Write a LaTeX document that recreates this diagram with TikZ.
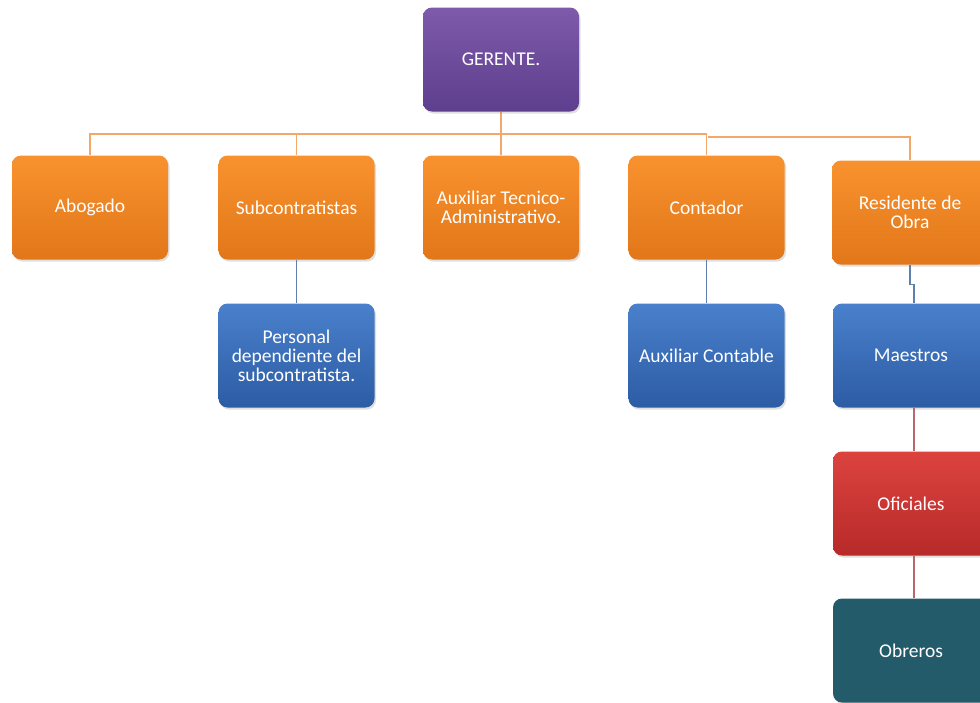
\documentclass[tikz,border=0pt]{standalone}
\usepackage{fontspec}
\setmainfont{Carlito}
\usetikzlibrary{shadows}
\pgfdeclarelayer{bg}
\pgfsetlayers{bg,main}
\definecolor{purpletop}{HTML}{7E5AAA}
\definecolor{purplebot}{HTML}{5E3E8E}
\definecolor{orangetop}{HTML}{F8922E}
\definecolor{orangebot}{HTML}{E27719}
\definecolor{bluetop}{HTML}{4A80CC}
\definecolor{bluebot}{HTML}{2C5CA4}
\definecolor{redtop}{HTML}{DC433F}
\definecolor{redbot}{HTML}{B72A29}
\definecolor{tealbox}{HTML}{245B6B}
\definecolor{orangeline}{HTML}{F2A86A}
\definecolor{blueline}{HTML}{5F7FAF}
\definecolor{redline}{HTML}{B8686A}
\tikzset{
    every node/.style={rectangle, rounded corners=9pt, inner sep=2pt, minimum width=156pt, minimum height=104pt,
        text width=150pt, align=flush center, text=white, font=\fontsize{19.5}{19}\selectfont,
        drop shadow={opacity=.25, shadow xshift=1.5pt, shadow yshift=-2pt}}
}
\tikzset{boss/.style={top color=purpletop, bottom color=purplebot}}
\tikzset{staff/.style={top color=orangetop, bottom color=orangebot}}
\tikzset{helper/.style={top color=bluetop, bottom color=bluebot}}
\tikzset{officer/.style={top color=redtop, bottom color=redbot}}
\tikzset{worker/.style={fill=tealbox}}
\tikzset{orgline/.style={draw=orangeline, line width=1.2pt}}
\tikzset{subline/.style={draw=blueline, line width=1.1pt}}
\tikzset{crewline/.style={draw=redline, line width=1.1pt}}

\begin{document}
\begin{tikzpicture}[x=1pt, y=-1pt]
    \useasboundingbox (0,0) rectangle (980,702);
    \clip (0,0) rectangle (980,702);

    \node (ger) at (501, 59.5) [boss] {GERENTE.};

    \node (abo) at (90, 207.5) [staff] {Abogado};
    \node (sub) at (296.5, 207.5) [staff] {Subcontratistas};
    \node (aux) at (501, 207.5) [staff] {Auxiliar Tecnico-\\Administrativo.};
    \node (con) at (706.5, 207.5) [staff] {Contador};
    \node (res) at (910, 212.5) [staff] {Residente de\\Obra};

    \node (per) at (296.5, 355.5) [helper] {Personal\\dependiente del\\subcontratista.};
    \node (auc) at (706.5, 355.5) [helper] {Auxiliar Contable};
    \node (mae) at (911, 355.5) [helper] {Maestros};

    \node (ofi) at (911, 503.5) [officer] {Oficiales};
    \node (obr) at (911, 650.5) [worker] {Obreros};

    \coordinate (busa) at (501, 134);
    \coordinate (busb) at (708, 137);

    \begin{pgfonlayer}{bg}
        \draw[orgline] (ger) -- (aux);
        \draw[orgline] (busa) -| (abo);
        \draw[orgline] (busa) -| (sub);
        \draw[orgline] (busa) -| (con.north);
        \draw[orgline] (busb) -| (res);
        \draw[subline] (sub) -- (per);
        \draw[subline] (con) -- (auc);
        \draw[subline] (res.south) -- ++(0,20) -| ([xshift=3pt]mae.north);
        \draw[crewline] ([xshift=3pt]mae.south) -- ([xshift=3pt]ofi.north);
        \draw[crewline] ([xshift=3pt]ofi.south) -- ([xshift=3pt]obr.north);
    \end{pgfonlayer}
\end{tikzpicture}
\end{document}
